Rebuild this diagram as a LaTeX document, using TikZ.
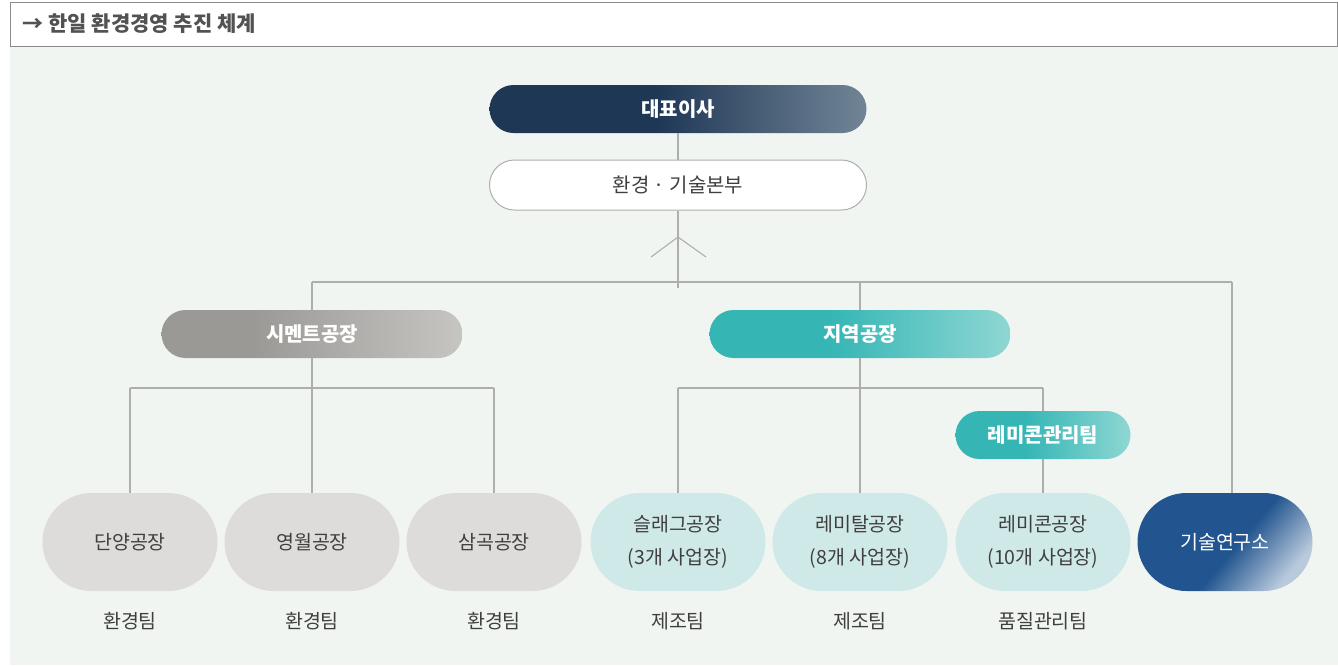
\documentclass[tikz,border=0pt]{standalone}
\usepackage{fontspec}
\setmainfont{Noto Sans CJK KR}
\usetikzlibrary{shapes.misc,positioning}
\definecolor{bgpanel}{HTML}{F1F5F2}
\definecolor{linegray}{HTML}{AEAEAE}
\definecolor{txtgray}{HTML}{3F3F3F}
\definecolor{ceodark}{HTML}{1E3755}
\definecolor{ceolight}{HTML}{718596}
\definecolor{cemdark}{HTML}{9A9995}
\definecolor{cemlight}{HTML}{C6C5C2}
\definecolor{tealdark}{HTML}{35B6B5}
\definecolor{teallight}{HTML}{8ED7D3}
\definecolor{plantgray}{HTML}{DEDCDA}
\definecolor{plantteal}{HTML}{CFE9E8}
\definecolor{labdark}{HTML}{22558F}
\definecolor{lablight}{HTML}{BACADD}
\pgfdeclarehorizontalshading{ceoshade}{100bp}{color(0bp)=(ceodark); color(47bp)=(ceodark); color(75bp)=(ceolight); color(100bp)=(ceolight)}
\pgfdeclarehorizontalshading{cemshade}{100bp}{color(0bp)=(cemdark); color(40bp)=(cemdark); color(75bp)=(cemlight); color(100bp)=(cemlight)}
\pgfdeclarehorizontalshading{tealshade}{100bp}{color(0bp)=(tealdark); color(45bp)=(tealdark); color(75bp)=(teallight); color(100bp)=(teallight)}
\pgfdeclarehorizontalshading{labshade}{100bp}{color(0bp)=(labdark); color(54bp)=(labdark); color(75bp)=(lablight); color(100bp)=(lablight)}
\newcommand{\bodyfont}{\fontsize{19.5}{33}\selectfont}
\newcommand{\topfont}{\fontsize{20}{24}\selectfont}
\begin{document}
\begin{tikzpicture}[x=1pt,y=-1pt,
link/.style={draw=linegray,line width=1.1pt},
pill/.style={rounded rectangle,inner sep=0pt,align=center,text=txtgray},
ceobox/.style={pill,minimum width=377pt,minimum height=48pt,shading=ceoshade,text=white,font=\topfont\bfseries},
hqbox/.style={pill,minimum width=377pt,minimum height=50pt,draw=linegray,fill=white,line width=1pt,font=\topfont},
midbox/.style={pill,minimum width=301pt,minimum height=48pt,text=white,font=\topfont\bfseries},
teambox/.style={pill,minimum width=175pt,minimum height=48pt,shading=tealshade,text=white,font=\topfont\bfseries},
plant/.style={pill,minimum width=175pt,minimum height=98pt,font=\bodyfont},
duty/.style={text=txtgray,font=\bodyfont}]
\useasboundingbox (0,0) rectangle (1338,665);
\fill[bgpanel] (10,47) rectangle (1338,665);
\draw[linegray!80!black,line width=1pt,fill=white] (10.5,2.5) rectangle (1337.5,46.5);
\draw (19,24) node[anchor=west,text=txtgray!90,font=\fontsize{21}{24}\selectfont\bfseries] (title) {→ 한일 환경경영 추진 체계};

% top
\draw (678,109) node[ceobox] (ceo) {대표이사};
\draw (678,185) node[hqbox] (hq) {환경 · 기술본부};
\draw[link] (ceo.south) -- (hq.north);
\coordinate (trunk) at (678,288);
\draw[link] (hq.south) -- (trunk);
\draw[link] (651,257) -- (678,237) -- (706,257);

% second level
\draw (312,334) node[midbox,shading=cemshade] (cement) {시멘트공장};
\draw (860,334) node[midbox,shading=tealshade] (region) {지역공장};
\coordinate (busL) at (312,282);
\coordinate (busR) at (1232,282);
\draw[link] (busL) -- (busR);
\draw[link] (busL) -- (cement.north);
\draw[link] (region.north |- busL) -- (region.north);

% plants
\draw (130,542) node[plant,fill=plantgray] (danyang) {단양공장};
\draw (312,542) node[plant,fill=plantgray] (yeongwol) {영월공장};
\draw (494,542) node[plant,fill=plantgray] (samgok) {삼곡공장};
\draw (678,542) node[plant,fill=plantteal] (slag) {슬래그공장\\(3개 사업장)};
\draw (860,542) node[plant,fill=plantteal] (remital) {레미탈공장\\(8개 사업장)};
\draw (1043,542) node[plant,fill=plantteal] (remicon) {레미콘공장\\(10개 사업장)};
\draw (1225,542) node[plant,shading=labshade,shading angle=-40,text=white] (lab) {기술연구소};
\draw[link] (busR) -- (busR |- lab.north);

% cement branch
\coordinate (cbusL) at (130,388);
\coordinate (cbusR) at (494,388);
\draw[link] (cbusL) -- (cbusR);
\draw[link] (cement.south) -- (yeongwol.north);
\draw[link] (cbusL) -- (danyang.north);
\draw[link] (cbusR) -- (samgok.north);

% region branch
\draw (1043,435) node[teambox] (remimg) {레미콘관리팀};
\coordinate (rbusL) at (678,388);
\coordinate (rbusR) at (1043,388);
\draw[link] (rbusL) -- (rbusR);
\draw[link] (region.south) -- (remital.north);
\draw[link] (rbusL) -- (slag.north);
\draw[link] (rbusR) -- (remimg.north);
\draw[link] (remimg.south) -- (remicon.north);

% duties
\draw (danyang.south) ++(0,30) node[duty] (d1) {환경팀};
\draw (yeongwol.south) ++(0,30) node[duty] (d2) {환경팀};
\draw (samgok.south) ++(0,30) node[duty] (d3) {환경팀};
\draw (slag.south) ++(0,30) node[duty] (d4) {제조팀};
\draw (remital.south) ++(0,30) node[duty] (d5) {제조팀};
\draw (remicon.south) ++(0,30) node[duty] (d6) {품질관리팀};
\end{tikzpicture}
\end{document}
